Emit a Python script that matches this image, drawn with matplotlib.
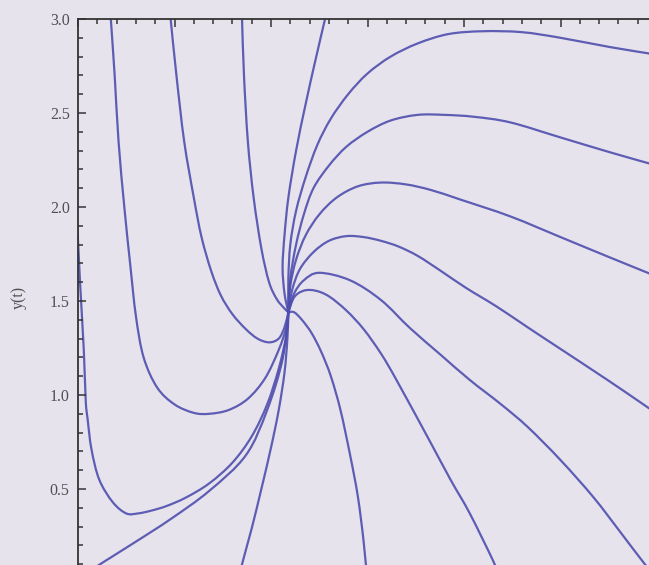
import matplotlib
matplotlib.use("Agg")
import matplotlib.pyplot as plt
import numpy as np
from matplotlib.path import Path
from matplotlib.patches import PathPatch
from matplotlib.ticker import MultipleLocator, FuncFormatter


# trajectories, data units (x, y)
TRAJ_X = [
    [0.17, 0.19, 0.21, 0.24, 0.27, 0.30, 0.34, 0.41, 0.50, 0.60, 0.68, 0.78,
     0.88, 0.97, 1.04, 1.08, 1.09],
    [0.48, 0.51, 0.55, 0.60, 0.64, 0.69, 0.74, 0.80, 0.87, 0.93, 0.99, 1.04,
     1.07, 1.09],
    [0.85, 0.86, 0.88, 0.91, 0.95, 0.99, 1.03, 1.07, 1.09],
    [1.28, 1.23, 1.18, 1.13, 1.09, 1.07, 1.06, 1.07, 1.09],
    [1.09, 1.09, 1.10, 1.13, 1.18, 1.24, 1.31, 1.40, 1.50, 1.62, 1.76, 1.92,
     2.10, 2.30, 2.50, 2.76, 3.00],
    [1.09, 1.10, 1.13, 1.17, 1.22, 1.30, 1.39, 1.50, 1.62, 1.76, 1.90, 2.05,
     2.24, 2.50, 2.76, 3.00],
    [1.09, 1.10, 1.13, 1.18, 1.25, 1.34, 1.45, 1.57, 1.70, 1.83, 1.98, 2.24,
     2.50, 2.76, 3.00],
    [1.09, 1.11, 1.15, 1.22, 1.30, 1.39, 1.48, 1.57, 1.66, 1.76, 1.88, 2.01,
     2.17, 2.33, 2.50, 2.67, 2.83, 3.00],
    [1.09, 1.12, 1.17, 1.25, 1.41, 1.57, 1.72, 1.88, 2.03, 2.19, 2.33, 2.50,
     2.67, 2.81, 2.94, 3.02],
    [1.09, 1.12, 1.17, 1.23, 1.30, 1.39, 1.48, 1.57, 1.65, 1.82, 1.93, 2.03,
     2.15, 2.20],
    [1.09, 1.12, 1.16, 1.21, 1.26, 1.31, 1.36, 1.41, 1.45, 1.48, 1.50],
    [1.09, 1.085, 1.07, 1.04, 1.00, 0.95, 0.90, 0.85, 0.83],
    [-0.02, 0.13, 0.30, 0.48, 0.68, 0.87, 0.98, 1.06, 1.09],
    [-0.01, 0.01, 0.03, 0.04, 0.05, 0.07, 0.11, 0.18, 0.25, 0.31, 0.38, 0.46,
     0.56, 0.68, 0.80, 0.90, 0.98, 1.04, 1.08, 1.09],
]
TRAJ_Y = [
    [3.00, 2.70, 2.35, 2.00, 1.70, 1.42, 1.20, 1.04, 0.95, 0.905, 0.90, 0.92,
     0.98, 1.09, 1.24, 1.36, 1.44],
    [3.00, 2.70, 2.35, 2.05, 1.84, 1.66, 1.53, 1.43, 1.35, 1.30, 1.28, 1.30,
     1.36, 1.44],
    [3.00, 2.70, 2.35, 2.05, 1.78, 1.60, 1.51, 1.46, 1.44],
    [3.00, 2.78, 2.55, 2.30, 2.05, 1.85, 1.68, 1.54, 1.44],
    [1.44, 1.62, 1.80, 1.98, 2.16, 2.33, 2.47, 2.60, 2.71, 2.80, 2.87, 2.92,
     2.935, 2.93, 2.90, 2.85, 2.81],
    [1.44, 1.62, 1.80, 1.96, 2.10, 2.22, 2.32, 2.40, 2.46, 2.49, 2.49, 2.48,
     2.45, 2.37, 2.29, 2.22],
    [1.44, 1.58, 1.72, 1.85, 1.96, 2.05, 2.11, 2.13, 2.12, 2.09, 2.04, 1.95,
     1.84, 1.73, 1.63],
    [1.44, 1.56, 1.67, 1.76, 1.82, 1.845, 1.84, 1.82, 1.79, 1.74, 1.66, 1.57,
     1.47, 1.36, 1.245, 1.13, 1.02, 0.90],
    [1.44, 1.54, 1.61, 1.65, 1.61, 1.505, 1.356, 1.213, 1.08, 0.952, 0.83, 0.654,
     0.457, 0.271, 0.096, 0.00],
    [1.44, 1.52, 1.555, 1.555, 1.525, 1.45, 1.35, 1.22, 1.08, 0.76, 0.55, 0.37,
     0.12, 0.00],
    [1.44, 1.44, 1.40, 1.33, 1.23, 1.10, 0.92, 0.68, 0.46, 0.22, 0.00],
    [1.44, 1.30, 1.12, 0.92, 0.72, 0.50, 0.29, 0.10, 0.00],
    [0.01, 0.11, 0.22, 0.34, 0.49, 0.68, 0.92, 1.19, 1.44],
    [2.04, 1.61, 1.24, 0.97, 0.87, 0.71, 0.55, 0.43, 0.37, 0.37, 0.385, 0.41,
     0.455, 0.53, 0.64, 0.78, 0.95, 1.14, 1.32, 1.44],
]

X_RANGE = [0, 3]
Y_RANGE = [0, 3]
Y_LABEL = "y(t)"

BG = "#e7e3ed"
LINE = "#4e4eae"
FONT = ["Liberation Serif", "DejaVu Serif"]


def smooth_path(xs, ys):
    # catmull-rom through the read points, drawn as cubic bezier segments
    pts = np.column_stack([xs, ys]).astype(float)
    verts = [pts[0]]
    codes = [Path.MOVETO]
    n = len(pts)
    for i in range(n - 1):
        p0 = pts[i - 1] if i > 0 else pts[i]
        p1 = pts[i]
        p2 = pts[i + 1]
        p3 = pts[i + 2] if i + 2 < n else pts[i + 1]
        verts += [p1 + (p2 - p0) / 6, p2 - (p3 - p1) / 6, p2]
        codes += [Path.CURVE4] * 3
    return Path(verts, codes)


def y_fmt(v, pos):
    if v < 0.05:
        return ""
    return f"{v:.1f}"


def main():
    fig = plt.figure(figsize=(6.49, 5.65), dpi=100)
    fig.patch.set_facecolor(BG)
    # frame runs past the bottom/right of the canvas, like the cropped original
    ax = fig.add_axes([78 / 649, -18 / 565, 579 / 649, 564 / 565])
    ax.set_facecolor(BG)

    for xs, ys in zip(TRAJ_X, TRAJ_Y):
        ax.add_patch(PathPatch(smooth_path(xs, ys), facecolor="none",
                               edgecolor=LINE, linewidth=1.6, alpha=0.9,
                               capstyle="round", joinstyle="round"))

    ax.set_xlim(X_RANGE)
    ax.set_ylim(Y_RANGE)
    ax.xaxis.set_major_locator(MultipleLocator(0.5))
    ax.xaxis.set_minor_locator(MultipleLocator(0.1))
    ax.yaxis.set_major_locator(MultipleLocator(0.5))
    ax.yaxis.set_minor_locator(MultipleLocator(0.1))
    ax.yaxis.set_major_formatter(FuncFormatter(y_fmt))

    ax.tick_params(which="both", direction="in", top=True, right=True,
                   labeltop=False, labelbottom=False, color="#333333", width=1.1)
    ax.tick_params(which="major", length=6, labelsize=11.5, labelcolor="#505050", pad=6)
    ax.tick_params(which="minor", length=3.5)
    for lab in ax.get_yticklabels():
        lab.set_family(FONT)
    for side in ax.spines.values():
        side.set_color("#333333")
        side.set_linewidth(1.3)

    ax.set_ylabel(Y_LABEL, fontsize=11.5, color="#505050", family=FONT)
    ax.yaxis.set_label_coords(-0.089, 0.507)

    fig.savefig("out.png", dpi=100, facecolor=BG)
    plt.close(fig)


if __name__ == "__main__":
    main()
